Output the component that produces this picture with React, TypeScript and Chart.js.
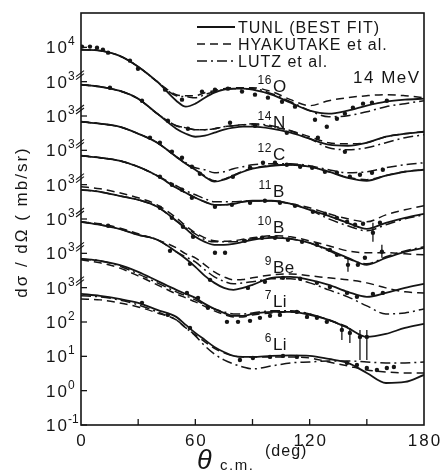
import React, { useEffect, useRef } from "react";
import { Chart, registerables } from "chart.js";

Chart.register(...registerables);

// ---------- data ----------
const ANGLES = [0, 10, 20, 30, 40, 50, 55, 60, 65, 70, 75, 80, 85, 90, 100, 110, 120, 130, 140, 150, 160, 170, 180];

const MASS = ["16", "14", "12", "11", "10", "9", "7", "6"];
const ELEMENT = ["O", "N", "C", "B", "B", "Be", "Li", "Li"];
// each curve is shifted up by this many decades (axis breaks)
const DECADE_SHIFT = [7, 6, 5, 4, 3, 2, 1, 0];

// TUNL (best fit), mb/sr
const O16_TUNL = [857, 800, 573, 274, 100, 27.9, 18.7, 22.9, 34.2, 47.8, 58.5, 62.5, 62.5, 58.5, 41.8, 24.4, 14.3, 11.7, 14.3, 20, 26.1, 29.9, 31.9];
const N14_TUNL = [818, 714, 547, 319, 117, 42.7, 30.5, 24.9, 26.7, 32.6, 39.9, 45.6, 48.8, 48.8, 42.7, 32.6, 21.8, 14.6, 13.6, 16.7, 24.9, 30.5, 34.8];
const C12_TUNL = [682, 597, 488, 305, 167, 65, 40.7, 27.2, 17, 12.2, 13.9, 18.2, 23.8, 29.1, 35.6, 38, 33.3, 23.8, 15.9, 13, 18.2, 23.8, 27.2];
const B11_TUNL = [697, 608, 498, 333, 182, 81.3, 58, 41.5, 31.7, 25.9, 25.9, 27.7, 31.7, 34, 34, 27.7, 18.5, 12.4, 7.74, 5.18, 7.74, 10.8, 14.2];
const B10_TUNL = [710, 621, 474, 363, 227, 88.7, 51.8, 30.3, 21.6, 17.7, 17.7, 18.9, 21.6, 24.8, 28.3, 26.5, 20.2, 12.6, 7.4, 4.62, 7.4, 11.1, 14.5];
const BE9_TUNL = [828, 678, 518, 346, 248, 111, 69.2, 40.4, 22.1, 13.8, 9.86, 8.63, 9.86, 12.1, 19.3, 20.7, 16.9, 12.1, 7.55, 5.4, 7.05, 9.86, 12.9];
const LI7_TUNL = [692, 604, 462, 289, 158, 86.3, 65.9, 50.5, 33.7, 24.1, 18.4, 15.1, 15.1, 17.2, 19.7, 19.7, 16.1, 11.5, 6.73, 3.68, 4.5, 6.73, 8.81];
const LI6_TUNL = [659, 577, 471, 361, 225, 141, 82.3, 48.1, 30.1, 18.8, 13.4, 10.3, 9.62, 9.62, 10.3, 10.6, 10.3, 8.39, 6.43, 3.28, 1.67, 1.79, 2.87];

// Hyakutake et al.
const O16_HYAK = [857, 800, 573, 274, 100, 41.8, 39, 39, 47.8, 54.7, 62.5, 66.8, 66.8, 66.8, 51.3, 29.9, 20, 27.9, 34.2, 39, 41.8, 39, 34.2];
const N14_HYAK = [818, 714, 547, 319, 117, 52.1, 45.6, 39.9, 39.9, 42.7, 48.8, 52.1, 55.7, 55.7, 48.8, 37.2, 24.9, 16.7, 15.6, 16.7, 24.9, 30.5, 34.8];
const C12_HYAK = [682, 597, 488, 305, 167, 65, 41, 28, 18, 13, 14.5, 19, 24.5, 30, 36, 38, 33.3, 23.8, 16.5, 14, 18.5, 24, 27.5];
const B11_HYAK = [697, 608, 498, 333, 182, 81.3, 58, 41.5, 31.7, 25.9, 25.9, 27.7, 31.7, 34, 34, 27.7, 21.2, 14.2, 10.1, 8.28, 13.2, 18.5, 24.3];
const B10_HYAK = [869, 759, 581, 415, 259, 108, 63.3, 39.6, 28.3, 23.1, 22.4, 23.1, 25.6, 28.3, 32.4, 30.3, 23.1, 16.6, 11.8, 10.4, 10.4, 9.66, 9.04];
const BE9_HYAK = [828, 724, 553, 371, 248, 145, 96.6, 74, 46.2, 28.9, 20.7, 16.9, 17.3, 19.3, 23.6, 25.2, 22.1, 19.3, 16.9, 13.8, 9.86, 7.55, 7.05];
const LI7_HYAK = [646, 528, 378, 221, 121, 65.9, 50.5, 38.5, 28.5, 21.1, 16.7, 14.1, 14.1, 16.1, 18.4, 19.7, 17.2, 11.5, 7.19, null, null, null, null];
const LI6_HYAK = [471, 441, 361, 275, 184, 115, 67.3, 42.1, 26.3, 17, 12.6, 10.3, 9.62, 9.62, 9.62, 9.62, 8.97, 6.87, 5.25, 4.01, 3.51, 3.28, 3.28];

// Lutz et al.
const O16_LUTZ = [857, 800, 573, 274, 100, 39, 36.5, 34.2, 41.8, 51.3, 58.5, 62.5, 62.5, 62.5, 44.7, 26.1, 14.3, 9.55, 10.2, 13.3, 18.7, 22.9, 27.9];
const N14_LUTZ = [818, 714, 547, 319, 117, 52.1, 45.6, 39.9, 39.9, 42.7, 48.8, 52.1, 55.7, 59.7, 52.1, 37.2, 21.8, 11.9, 10.4, 11.9, 16.7, 23.3, 28.5];
const C12_LUTZ = [682, 597, 488, 305, 167, 65, 43.5, 31.1, 27.2, 22.2, 23.8, 29.1, 33.3, 38, 40.7, 40.7, 35.6, 27.2, 22.2, 23.8, 31.1, 38, 43.5];
const B11_LUTZ = [697, 608, 498, 333, 182, 92.9, 66.4, 50.8, 38.8, 31.7, 31.7, 31.7, 33, 34, 34, 27.7, 18.5, 10.1, 6.34, 4.53, 6.78, 10.1, 13.2];
const B10_LUTZ = [710, 621, 474, 363, 227, 88.7, 55.4, 37.1, 24.8, 21.6, 21.6, 21.6, 24.3, 26.5, 30.3, 26.5, 20.2, 11.8, 6.92, 4.94, 7.91, 11.8, 15.5];
const BE9_LUTZ = [828, 678, 518, 346, 248, 111, 79, 56.5, 33, 20.7, 15.3, 12.9, 13.8, 14.8, 18.1, 18.1, 13.8, 8.63, 5.4, 2.94, 1.72, 1.84, 2.41];
const LI7_LUTZ = [692, 604, 433, 252, 138, 75.5, 57.7, 44.1, 31.6, 24.1, 19.7, 17.2, 17.2, 18.4, 21.1, 21.1, 17.2, 11.5, 6.73, null, null, null, null];
const LI6_LUTZ = [577, 540, 441, 316, 197, 115, 67.3, 39.4, 20.1, 11.7, 7.85, 6, 4.91, 4.3, 5.25, 6.43, 6.87, 7.35, 7.35, 6.87, 6.43, 6.43, 6.87];

// measured points
const O16_EXP_ANG = [0.5, 4.7, 8.4, 11.5, 14.2, 25.7, 29.9, 44.1, 53, 63.5, 70.3, 77.1, 84.5, 91.3, 98.1, 105.5, 112.3, 122.8, 129, 134.3, 138.5, 142.7, 148, 152.7, 160.5];
const O16_EXP_VAL = [1050, 1050, 980, 857, 700, 409, 239, 58.5, 29.9, 51.3, 58.5, 62.5, 51.3, 41.8, 34.2, 26.1, 18.7, 7.8, 4.88, 8.34, 11.7, 17.5, 22.9, 24.4, 27.9];
const N14_EXP_ANG = [15.2, 32, 45.6, 56.1, 78.2, 91.3, 108, 124.3, 138.5];
const N14_EXP_VAL = [668, 279, 73, 42.7, 63.8, 52.1, 32.6, 23.3, 9.1];
const C12_EXP_ANG = [36.2, 41.4, 47.7, 53, 58.2, 62.4, 79.7, 88.7, 95.5, 101.8, 108, 115, 121.3, 128, 134.3, 141.1, 146.4, 152.7, 158.4];
const C12_EXP_VAL = [233, 167, 91, 60.8, 33.3, 20.8, 17, 31.1, 43.5, 43.5, 38, 33.3, 31.1, 23.8, 22.2, 17, 19.4, 22.2, 27.2];
const B11_EXP_ANG = [41.4, 47.7, 53, 58.2, 70.3, 79.2, 88.7, 96.5, 104.4, 112.3, 121.7, 128, 134.3, 139.6, 143.8, 148, 153.2, 156.9];
const B11_EXP_VAL = [170, 99, 71, 41.5, 22.7, 25.9, 29.7, 34, 29.7, 24.3, 16.2, 14.2, 10.8, 8.28, 6.78, 7.24, 3.96, 7.74];
const B10_EXP_ANG = [41.4, 47.7, 53.5, 58.8, 70.3, 75.6, 86, 95, 101.8, 108.6, 116, 123.8, 130.6, 134.3, 140.1, 145.3, 149, 157.9];
const B10_EXP_VAL = [212, 108, 59.3, 30.3, 10.4, 10.4, 23.1, 28.3, 28.3, 24.8, 21.6, 17.7, 12.6, 9.04, 4.62, 4.62, 7.4, 11.1];
const BE9_EXP_ANG = [14.2, 46.7, 57.2, 67.7, 87.6, 96.5, 106, 115, 123.8, 130.6, 139.6, 144.8, 153.2, 158.4];
const BE9_EXP_VAL = [634, 118, 49.4, 16.9, 9.86, 14.8, 19.3, 18.1, 13.8, 10.5, 7.05, 5.4, 6.59, 7.05];
const LI7_EXP_ANG = [55.6, 61.4, 66.6, 76.6, 82.4, 88.7, 93.9, 99.2, 104.4, 113.3, 118.6, 123.8, 129, 136.9, 141.1, 146.4, 150];
const LI7_EXP_VAL = [70.5, 50.5, 25.8, 10.1, 10.1, 10.8, 13.2, 15.1, 16.1, 19.7, 14.1, 13.2, 10.1, 5.89, 4.81, 3.68, 3.68];
const LI6_EXP_ANG = [32, 45.6, 57.2, 83.4, 90.2, 99.2, 106, 113.3, 139.6, 144.8, 150, 155.3, 160.5, 164.2];
const LI6_EXP_VAL = [361, 161, 67.3, 7.85, 8.97, 9.62, 10.3, 9.62, 6.43, 5.61, 4.59, 4.01, 4.59, 4.91];

// error bars (nucleus index, angle, low, high)
const ERR_NUCLEUS = [6, 6, 6, 6, 4, 4, 3];
const ERR_ANGLE = [136.9, 141.1, 146.4, 150, 140.1, 157.9, 153.2];
const ERR_LOW = [3.0, 2.46, 0.785, 0.785, 2.9, 7.4, 2.16];
const ERR_HIGH = [7.7, 6.73, 5.89, 5.89, 7.4, 17.7, 7.74];

// nucleus label anchor (angle, value on its own scale)
const LABEL_ANGLE = 100.7;
const LABEL_VALUE = [51, 45.6, 53.2, 44.4, 39.6, 27, 27.5, 15.4];

const Y_TICK_DECADES = [-1, 0, 1, 2, 3, 4, 5, 6, 7, 8, 9, 10];
const Y_TICK_EXP = ["-1", "0", "1", "2", "3", "3", "3", "3", "3", "3", "3", "4"];
const Y_BREAK_DECADES = [3, 4, 5, 6, 7, 8, 9];
const X_TICKS_MAJOR = [0, 60, 120, 180];
const X_TICKS_MINOR = [30, 90, 150];

const LEGEND_LABELS = ["TUNL (BEST FIT)", "HYAKUTAKE et al.", "LUTZ et al."];
const ENERGY_LABEL = "14 MeV";
const Y_TITLE = "dσ / dΩ ( mb/sr)";

const TUNL = [O16_TUNL, N14_TUNL, C12_TUNL, B11_TUNL, B10_TUNL, BE9_TUNL, LI7_TUNL, LI6_TUNL];
const HYAK = [O16_HYAK, N14_HYAK, C12_HYAK, B11_HYAK, B10_HYAK, BE9_HYAK, LI7_HYAK, LI6_HYAK];
const LUTZ = [O16_LUTZ, N14_LUTZ, C12_LUTZ, B11_LUTZ, B10_LUTZ, BE9_LUTZ, LI7_LUTZ, LI6_LUTZ];
const EXP_ANG = [O16_EXP_ANG, N14_EXP_ANG, C12_EXP_ANG, B11_EXP_ANG, B10_EXP_ANG, BE9_EXP_ANG, LI7_EXP_ANG, LI6_EXP_ANG];
const EXP_VAL = [O16_EXP_VAL, N14_EXP_VAL, C12_EXP_VAL, B11_EXP_VAL, B10_EXP_VAL, BE9_EXP_VAL, LI7_EXP_VAL, LI6_EXP_VAL];

// ---------- styling ----------
const INK = "#151515";
const FONT = "'Liberation Sans', Arial, sans-serif";
const DASH_HYAK = [8, 5];
const DASH_LUTZ = [10, 4, 2, 4];

const shift = (i: number) => Math.pow(10, DECADE_SHIFT[i]);

function buildDatasets() {
  const ds: any[] = [];
  TUNL.forEach((_, i) => {
    const k = shift(i);
    const mk = (arr: (number | null)[]) =>
      ANGLES.map((a, j) => ({ x: a, y: arr[j] == null ? null : (arr[j] as number) * k }));
    const base = {
      borderColor: INK,
      pointRadius: 0,
      fill: false,
      cubicInterpolationMode: "monotone",
      spanGaps: false,
    };
    ds.push({ ...base, label: "TUNL " + MASS[i] + ELEMENT[i], data: mk(TUNL[i]), borderWidth: 1.8 });
    ds.push({ ...base, label: "HYAK " + MASS[i] + ELEMENT[i], data: mk(HYAK[i]), borderWidth: 1.5, borderDash: DASH_HYAK });
    ds.push({ ...base, label: "LUTZ " + MASS[i] + ELEMENT[i], data: mk(LUTZ[i]), borderWidth: 1.5, borderDash: DASH_LUTZ });
    ds.push({
      label: "exp " + MASS[i] + ELEMENT[i],
      data: EXP_ANG[i].map((a, j) => ({ x: a, y: EXP_VAL[i][j] * k })),
      showLine: false,
      pointRadius: 2.2,
      pointBackgroundColor: INK,
      pointBorderWidth: 0,
      borderColor: INK,
    });
  });
  return ds;
}

const decor = {
  id: "decor",
  afterDraw(chart: any) {
    const { ctx, chartArea: ca, scales } = chart;
    const xs = scales.x;
    const ys = scales.y;
    ctx.save();
    ctx.strokeStyle = INK;
    ctx.fillStyle = INK;

    // error bars
    ctx.lineWidth = 1.3;
    ERR_ANGLE.forEach((a, i) => {
      const k = shift(ERR_NUCLEUS[i]);
      const px = xs.getPixelForValue(a);
      ctx.beginPath();
      ctx.moveTo(px, ys.getPixelForValue(ERR_LOW[i] * k));
      ctx.lineTo(px, ys.getPixelForValue(ERR_HIGH[i] * k));
      ctx.stroke();
    });

    // frame
    ctx.lineWidth = 1.6;
    ctx.strokeRect(ca.left, ca.top, ca.right - ca.left, ca.bottom - ca.top);

    // y ticks + labels
    ctx.lineWidth = 1.3;
    Y_TICK_DECADES.forEach((d, i) => {
      const y = ys.getPixelForValue(Math.pow(10, d));
      ctx.beginPath();
      ctx.moveTo(ca.left, y);
      ctx.lineTo(ca.left + 6, y);
      ctx.stroke();
      ctx.font = `17px ${FONT}`;
      ctx.letterSpacing = "2px";
      ctx.textAlign = "right";
      ctx.textBaseline = "alphabetic";
      ctx.fillText("10", ca.left - 12, y + 6);
      ctx.font = `12px ${FONT}`;
      ctx.letterSpacing = "0px";
      ctx.textAlign = "left";
      ctx.fillText(Y_TICK_EXP[i], ca.left - 13, y - 2);
    });

    // axis breaks
    ctx.lineWidth = 1.1;
    Y_BREAK_DECADES.forEach((d) => {
      const y = ys.getPixelForValue(Math.pow(10, d));
      [0, 3].forEach((o) => {
        ctx.beginPath();
        ctx.moveTo(ca.left - 5, y - 5 + o);
        ctx.lineTo(ca.left + 3, y - 11 + o);
        ctx.stroke();
      });
    });

    // x ticks + labels
    ctx.lineWidth = 1.3;
    [...X_TICKS_MAJOR, ...X_TICKS_MINOR].forEach((a) => {
      if (a <= 0 || a >= 180) return;
      const x = xs.getPixelForValue(a);
      ctx.beginPath();
      ctx.moveTo(x, ca.bottom);
      ctx.lineTo(x, ca.bottom - 6);
      ctx.stroke();
    });
    ctx.font = `17px ${FONT}`;
    ctx.letterSpacing = "2px";
    ctx.textAlign = "center";
    X_TICKS_MAJOR.forEach((a) => {
      ctx.fillText(String(a), xs.getPixelForValue(a) + 1, ca.bottom + 21);
    });

    // x title
    ctx.textAlign = "left";
    ctx.letterSpacing = "0px";
    ctx.font = `italic 27px ${FONT}`;
    ctx.fillText("θ", 197, 469);
    ctx.font = `15px ${FONT}`;
    ctx.letterSpacing = "1.5px";
    ctx.fillText("c.m.", 220, 470);
    ctx.font = `16px ${FONT}`;
    ctx.letterSpacing = "1px";
    ctx.fillText("(deg)", 265, 456);

    // y title
    ctx.save();
    ctx.translate(27, 222);
    ctx.rotate(-Math.PI / 2);
    ctx.font = `17px ${FONT}`;
    ctx.letterSpacing = "2px";
    ctx.textAlign = "center";
    ctx.fillText(Y_TITLE, 0, 0);
    ctx.restore();

    // legend
    const legY = [27, 44, 61];
    const dashes = [[], DASH_HYAK, DASH_LUTZ];
    LEGEND_LABELS.forEach((t, i) => {
      ctx.setLineDash(dashes[i]);
      ctx.lineWidth = i === 0 ? 1.8 : 1.5;
      ctx.beginPath();
      ctx.moveTo(197, legY[i]);
      ctx.lineTo(235, legY[i]);
      ctx.stroke();
      ctx.setLineDash([]);
      ctx.font = `16px ${FONT}`;
      ctx.letterSpacing = "1px";
      ctx.textAlign = "left";
      ctx.fillText(t, 238, legY[i] + 6);
    });

    // energy
    ctx.font = `17px ${FONT}`;
    ctx.letterSpacing = "1.5px";
    ctx.fillText(ENERGY_LABEL, 353, 83);

    // nucleus labels
    LABEL_VALUE.forEach((v, i) => {
      const x = xs.getPixelForValue(LABEL_ANGLE);
      const y = ys.getPixelForValue(v * shift(i));
      ctx.letterSpacing = "0.5px";
      ctx.font = `17px ${FONT}`;
      ctx.textAlign = "left";
      ctx.fillText(ELEMENT[i], x, y);
      ctx.font = `12px ${FONT}`;
      ctx.textAlign = "right";
      ctx.fillText(MASS[i], x - 1, y - 8);
    });

    ctx.restore();
  },
};

export default function App() {
  const ref = useRef<HTMLCanvasElement>(null);
  useEffect(() => {
    const canvas = ref.current;
    if (!canvas) return;
    const chart = new Chart(canvas, {
      type: "line",
      data: { datasets: buildDatasets() },
      options: {
        animation: false,
        responsive: false,
        devicePixelRatio: 1,
        layout: { padding: { left: 81, right: 18, top: 13, bottom: 49 } },
        plugins: { legend: { display: false }, tooltip: { enabled: false } },
        scales: {
          x: { type: "linear", min: 0, max: 180, display: false },
          y: { type: "logarithmic", min: 0.1, max: 1e11, display: false },
        },
      },
      plugins: [decor],
    } as any);
    return () => chart.destroy();
  }, []);
  return (
    <div style={{ position: "fixed", left: 0, top: 0, width: 442, height: 474, background: "#fff" }}>
      <canvas ref={ref} width={442} height={474} style={{ display: "block", width: 442, height: 474 }} />
    </div>
  );
}
